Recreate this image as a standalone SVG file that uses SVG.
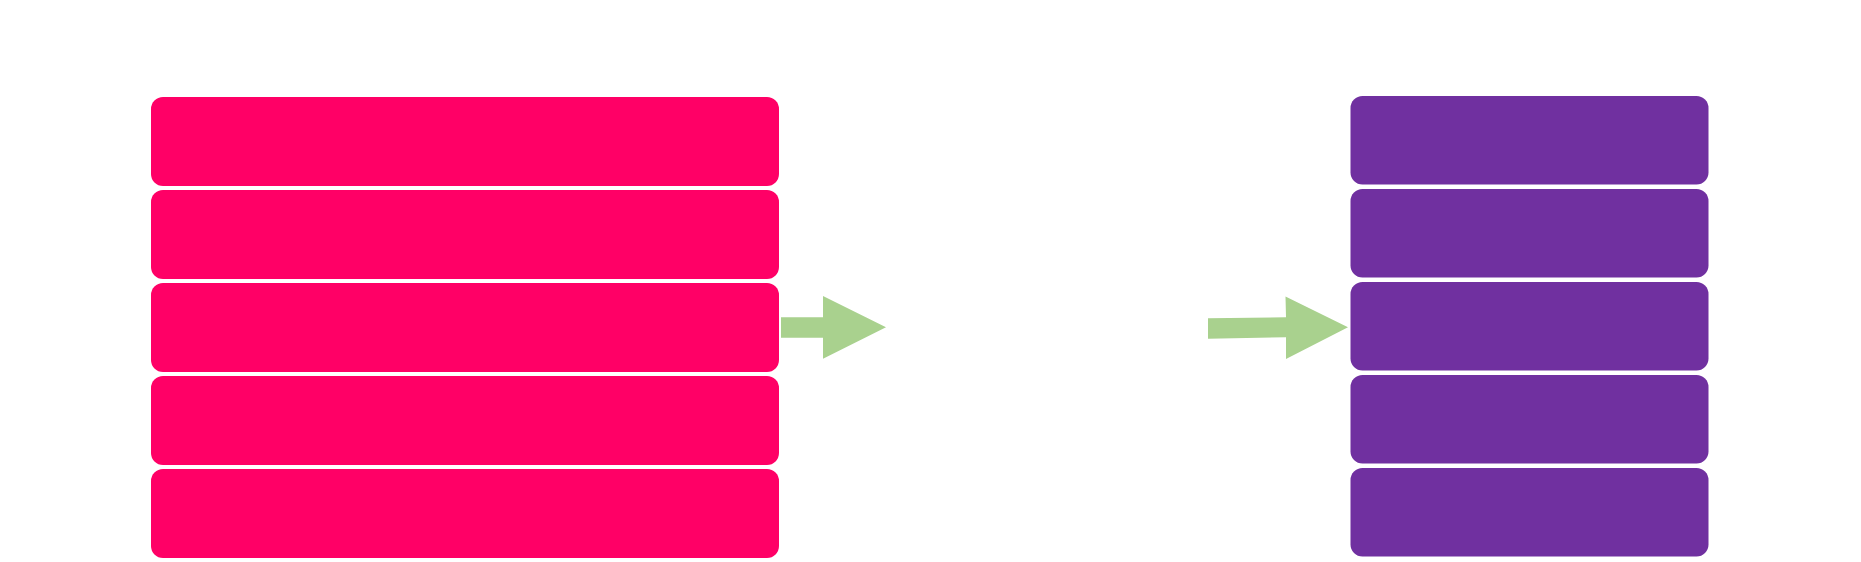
<svg xmlns="http://www.w3.org/2000/svg" width="1861" height="562" viewBox="0 0 1861 562">
<style>
.pink{fill:#FF0066;}
.purple{fill:#7030A0;}
.arrow{fill:#A9D18E;}
</style>
<rect x="0" y="0" width="1861" height="562" fill="#FFFFFF"/>
<g id="left-stack">
<rect id="left-1" class="pink" x="151" y="97" width="628" height="89" rx="12"/>
<rect id="left-2" class="pink" x="151" y="190" width="628" height="89" rx="12"/>
<rect id="left-3" class="pink" x="151" y="283" width="628" height="89" rx="12"/>
<rect id="left-4" class="pink" x="151" y="376" width="628" height="89" rx="12"/>
<rect id="left-5" class="pink" x="151" y="469" width="628" height="89" rx="12"/>
</g>
<g id="right-stack">
<rect id="right-1" class="purple" x="1350.5" y="96" width="358" height="88.5" rx="12"/>
<rect id="right-2" class="purple" x="1350.5" y="189" width="358" height="88.5" rx="12"/>
<rect id="right-3" class="purple" x="1350.5" y="282" width="358" height="88.5" rx="12"/>
<rect id="right-4" class="purple" x="1350.5" y="375" width="358" height="88.5" rx="12"/>
<rect id="right-5" class="purple" x="1350.5" y="468" width="358" height="88.5" rx="12"/>
</g>
<g id="connectors">
<polygon class="arrow" points="781,317.3 823,317.3 823,296 886,327.3 823,358.7 823,337.7 781,337.7"/>
<polygon class="arrow" points="1208,318.3 1286,317.3 1285.5,296.5 1348,327.3 1286,359 1286,337.3 1208,338.7"/>
</g>
</svg>
